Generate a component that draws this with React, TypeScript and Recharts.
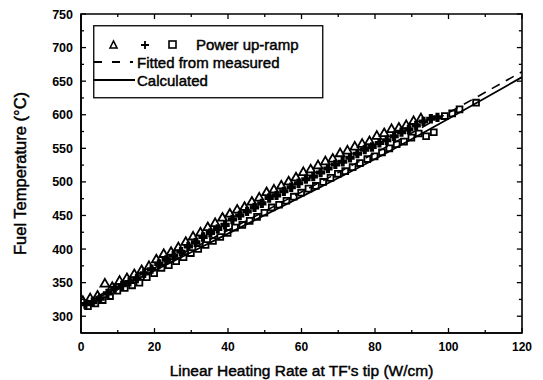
import React from 'react';
import { ComposedChart, Scatter, Line, XAxis, YAxis, ZAxis, Legend, Label, ReferenceArea, ReferenceLine } from 'recharts';

const FONT = '"Liberation Sans", Arial, Helvetica, sans-serif';

const xTicks = [0, 10, 20, 30, 40, 50, 60, 70, 80, 90, 100, 110, 120];
const xLabels = [0, 20, 40, 60, 80, 100, 120];
const yTicks = [300, 325, 350, 375, 400, 425, 450, 475, 500, 525, 550, 575, 600, 625, 650, 675, 700, 725, 750];
const yLabels = [300, 350, 400, 450, 500, 550, 600, 650, 700, 750];
const xDomain: [number, number] = [0, 120];
const yDomain: [number, number] = [275, 750];

const xTitle = "Linear Heating Rate at TF's tip (W/cm)";
const yTitle = 'Fuel Temperature (°C)';
const legendRamp = 'Power up-ramp';
const legendFit = 'Fitted from measured';
const legendCalc = 'Calculated';

// Power up-ramp measurements, three thermocouple sets
const rampA: [number, number][] = [
  [0.5, 322], [2.5, 326], [4.5, 330], [6.5, 348], [8.5, 343], [10.5, 352], [12.5, 356], [14.5, 362],
  [16.5, 368], [18.5, 374], [20.5, 384], [22.5, 392], [24.5, 395], [26.5, 402], [28.5, 410], [30.5, 418],
  [32.5, 424], [34.5, 432], [36.5, 438], [38.5, 446], [40.5, 452], [42.5, 458], [44.5, 462], [46.5, 470],
  [48.5, 476], [50.5, 484], [52.5, 488], [54.5, 494], [56.5, 500], [58.5, 506], [60.5, 514], [62.5, 518],
  [64.5, 524], [66.5, 530], [68.5, 534], [70.5, 542], [72.5, 546], [74.5, 552], [76.5, 556], [78.5, 560],
  [80.5, 568], [82.5, 572], [84.5, 578], [86.5, 580], [88.5, 584], [90.5, 590], [92.5, 594],
];
const rampB: [number, number][] = [
  [1.2, 318], [3.2, 321], [5.2, 326], [7.2, 334], [9.2, 342], [11.2, 346], [13.2, 351], [15.2, 356],
  [17.2, 364], [19.2, 370], [21.2, 378], [23.2, 384], [25.2, 390], [27.2, 396], [29.2, 404], [31.2, 410],
  [33.2, 418], [35.2, 424], [37.2, 430], [39.2, 436], [41.2, 444], [43.2, 450], [45.2, 456], [47.2, 462],
  [49.2, 468], [51.2, 476], [53.2, 480], [55.2, 486], [57.2, 492], [59.2, 498], [61.2, 504], [63.2, 508],
  [65.2, 514], [67.2, 520], [69.2, 526], [71.2, 530], [73.2, 536], [75.2, 542], [77.2, 548], [79.2, 552],
  [81.2, 558], [83.2, 562], [85.2, 568], [87.2, 574], [89.2, 578], [91.2, 584], [93.2, 590], [95.2, 594], [97, 596],
];
const rampC: [number, number][] = [
  [1.9, 315], [3.9, 319], [5.9, 324], [7.9, 330], [9.9, 338], [11.9, 342], [13.9, 346], [15.9, 350],
  [17.9, 358], [19.9, 364], [21.9, 372], [23.9, 376], [25.9, 382], [27.9, 388], [29.9, 394], [31.9, 400],
  [33.9, 406], [35.9, 412], [37.9, 418], [39.9, 424], [41.9, 432], [43.9, 436], [45.9, 442], [47.9, 448],
  [49.9, 454], [51.9, 462], [53.9, 466], [55.9, 472], [57.9, 478], [59.9, 484], [61.9, 490], [63.9, 494],
  [65.9, 500], [67.9, 506], [69.9, 512], [71.9, 516], [73.9, 522], [75.9, 528], [77.9, 534], [79.9, 538],
  [81.9, 544], [83.9, 550], [85.9, 556], [87.9, 560], [89.9, 566], [91.9, 572], [93.9, 568], [96, 574],
  [99, 598], [101, 602], [103, 608], [107.5, 618],
];

const calcX = [0, 20, 40, 60, 80, 100, 120];
const calcY = [316, 368, 423, 478, 534, 594, 656];
const fitX = [0, 20, 40, 60, 80, 100, 120];
const fitY = [318, 372, 428, 485, 543, 603, 664];

const toPts = (arr: [number, number][]) => arr.map(([x, y]) => ({ x, y }));
const dataA = toPts(rampA);
const dataB = toPts(rampB);
const dataC = toPts(rampC);
const calcData = calcX.map((x, i) => ({ x, y: calcY[i] }));
const fitData = fitX.map((x, i) => ({ x, y: fitY[i] }));

// inward tick lengths for the mirrored top / right frame, in data units
const topTickLen = (v: number) => (xLabels.includes(v) ? 7.5 : 4.5);
const rightTickLen = (v: number) => (yLabels.includes(v) ? 1.4 : 0.85);

const BottomTick = (p: any) => {
  const { x, y, payload } = p;
  const major = xLabels.includes(payload.value);
  return (
    <g>
      <line x1={x} x2={x} y1={y} y2={y - (major ? 5 : 3)} stroke="#000" strokeWidth={1.3} />
      {major && (
        <text x={x} y={y + 18} textAnchor="middle" fontFamily={FONT} fontWeight="bold" fontSize={12} fill="#000">
          {payload.value}
        </text>
      )}
    </g>
  );
};
const LeftTick = (p: any) => {
  const { x, y, payload } = p;
  const major = yLabels.includes(payload.value);
  return (
    <g>
      <line x1={x} x2={x + (major ? 5 : 3)} y1={y} y2={y} stroke="#000" strokeWidth={1.3} />
      {major && (
        <text x={x - 8} y={y + 4.5} textAnchor="end" fontFamily={FONT} fontWeight="bold" fontSize={12.5} fill="#000">
          {payload.value}
        </text>
      )}
    </g>
  );
};

const XTitle = (p: any) => {
  const vb = p.viewBox;
  return (
    <text x={vb.x + vb.width / 2} y={vb.y + 42.5} textAnchor="middle" fontFamily={FONT} fontSize={15.5}
      fill="#000" stroke="#000" strokeWidth={0.45}>
      {xTitle}
    </text>
  );
};
const YTitle = (p: any) => {
  const vb = p.viewBox;
  const cx = vb.x + 15;
  const cy = vb.y + vb.height / 2;
  return (
    <text x={cx} y={cy} textAnchor="middle" dominantBaseline="central" fontFamily={FONT} fontSize={16.5}
      fill="#000" stroke="#000" strokeWidth={0.45} transform={`rotate(-90, ${cx}, ${cy})`}>
      {yTitle}
    </text>
  );
};

const LegendBox = () => {
  const ts = { fontFamily: FONT, fontSize: 15, fill: '#000', stroke: '#000', strokeWidth: 0.45 } as const;
  return (
    <svg width={232} height={74} style={{ display: 'block', overflow: 'visible' }}>
      <rect x={0.75} y={0.75} width={229} height={72} fill="#fff" stroke="#000" strokeWidth={1.3} />
      <path d="M17 23 L20.5 16 L24 23 Z" fill="none" stroke="#000" strokeWidth={1.6} />
      <path d="M48 20 L56 20 M52 16 L52 24" fill="none" stroke="#000" strokeWidth={1.8} />
      <rect x={76} y={16} width={7} height={7} fill="none" stroke="#000" strokeWidth={1.6} />
      <text x={103} y={25} {...ts}>{legendRamp}</text>
      <line x1={1} x2={40} y1={37} y2={37} stroke="#000" strokeWidth={1.8} strokeDasharray="8 10" />
      <text x={44} y={43} {...ts}>{legendFit}</text>
      <line x1={1} x2={42} y1={55} y2={55} stroke="#000" strokeWidth={1.8} />
      <text x={44} y={61} {...ts}>{legendCalc}</text>
    </svg>
  );
};

export default function App() {
  return (
    <div style={{ position: 'absolute', left: 0, top: 0, background: '#fff' }}>
      <ComposedChart width={543} height={380} margin={{ top: 14, right: 21, bottom: 2, left: 5 }}>
        <XAxis
          dataKey="x" type="number" domain={xDomain} ticks={xTicks} allowDataOverflow
          tick={BottomTick} tickLine={false} tickSize={0} tickMargin={0} height={45}
          axisLine={{ stroke: '#000', strokeWidth: 1.6 }} interval={0}
        >
          <Label content={XTitle} />
        </XAxis>
        <YAxis
          type="number" domain={yDomain} ticks={yTicks} allowDataOverflow
          tick={LeftTick} tickLine={false} tickSize={0} tickMargin={0} width={76}
          axisLine={{ stroke: '#000', strokeWidth: 1.6 }} interval={0}
        >
          <Label content={YTitle} />
        </YAxis>
        <ZAxis range={[34, 34]} />
        <ReferenceArea x1={xDomain[0]} x2={xDomain[1]} y1={yDomain[0]} y2={yDomain[1]} ifOverflow="visible"
          fill="none" stroke="#000" strokeWidth={1.6} fillOpacity={0} />
        {xTicks.map((t) => (
          <ReferenceLine key={'tt' + t} ifOverflow="visible" stroke="#000" strokeWidth={1.3}
            segment={[{ x: t, y: yDomain[1] }, { x: t, y: yDomain[1] - topTickLen(t) }]} />
        ))}
        {yTicks.map((t) => (
          <ReferenceLine key={'rt' + t} ifOverflow="visible" stroke="#000" strokeWidth={1.3}
            segment={[{ x: xDomain[1], y: t }, { x: xDomain[1] - rightTickLen(t), y: t }]} />
        ))}
        <Legend
          layout="vertical" align="center" verticalAlign="middle"
          wrapperStyle={{ left: 93, top: 25, width: 232, height: 74 }}
          content={LegendBox}
        />
        <Scatter name="A" data={dataA} dataKey="y" shape="triangle"
          fill="none" stroke="#000" strokeWidth={1.8} isAnimationActive={false} legendType="none" />
        <Scatter name="B" data={dataB} dataKey="y" shape="cross"
          fill="#000" stroke="#000" strokeWidth={1.5} isAnimationActive={false} legendType="none" />
        <Scatter name="C" data={dataC} dataKey="y" shape="square"
          fill="none" stroke="#000" strokeWidth={1.8} isAnimationActive={false} legendType="none" />
        <Line data={fitData} dataKey="y" type="monotone" stroke="#000"
          strokeWidth={1.6} strokeDasharray="9 7" dot={false} isAnimationActive={false} legendType="none" />
        <Line data={calcData} dataKey="y" type="monotone" stroke="#000"
          strokeWidth={1.8} dot={false} isAnimationActive={false} legendType="none" />
      </ComposedChart>
    </div>
  );
}
